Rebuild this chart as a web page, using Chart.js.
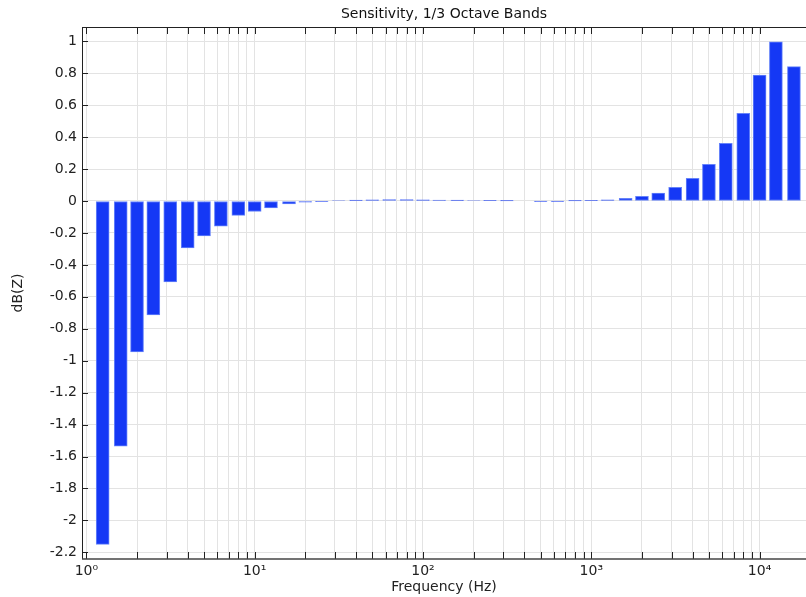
<!DOCTYPE html>
<html>
<head>
<meta charset="utf-8">
<title>Sensitivity, 1/3 Octave Bands</title>
<script src="https://cdn.jsdelivr.net/npm/chart.js@4"></script>
<style>
    body { margin: 0; background: #fff; overflow: hidden; }
    canvas { display: block; }
</style>
</head>
<body>
<canvas id="sensitivity-chart" width="806" height="597"></canvas>
<script>
// 1/3 octave band centre frequencies (Hz)
const bands = [
    1.25, 1.6, 2, 2.5, 3.15, 4, 5, 6.3, 8, 10,
    12.5, 16, 20, 25, 31.5, 40, 50, 63, 80, 100,
    125, 160, 200, 250, 315, 400, 500, 630, 800, 1000,
    1250, 1600, 2000, 2500, 3150, 4000, 5000, 6300, 8000, 10000,
    12500, 16000
];

// Sensitivity per band, dB(Z)
const sensitivity = [
    -2.15, -1.535, -0.945, -0.714, -0.507, -0.294, -0.219, -0.157, -0.09, -0.066,
    -0.043, -0.019, -0.008, -0.002, 0.003, 0.005, 0.007, 0.009, 0.009, 0.008,
    0.006, 0.005, 0.003, 0.002, 0.001, 0.0, -0.001, -0.001, 0.001, 0.004,
    0.008, 0.017, 0.029, 0.05, 0.086, 0.142, 0.23, 0.361, 0.549, 0.789,
    0.996, 0.841
];

// axis ticks
const decades = [1, 10, 100, 1000, 10000];
const decadeLabels = ['10\u2070', '10\u00b9', '10\u00b2', '10\u00b3', '10\u2074'];
const minorSteps = [1, 2, 3, 4, 5, 6, 7, 8, 9];
const yTicks = [1, 0.8, 0.6, 0.4, 0.2, 0, -0.2, -0.4, -0.6, -0.8, -1, -1.2, -1.4, -1.6, -1.8, -2, -2.2];

Chart.defaults.font.family = "'DejaVu Sans', sans-serif";
Chart.defaults.font.size = 14;
Chart.defaults.color = '#222';

// frame + tick marks pointing into the plot
const insideTicks = {
    id: 'insideTicks',
    afterDraw: (chart) => {
        const { ctx, chartArea: { top, bottom, left, right }, scales: { x, y } } = chart;
        ctx.save();
        ctx.strokeStyle = '#222';
        ctx.lineWidth = 1;
        ctx.beginPath();
        x.ticks.forEach(t => {
            const px = Math.round(x.getPixelForValue(t.value)) + 0.5;
            ctx.moveTo(px, top);
            ctx.lineTo(px, top + 7);
            ctx.moveTo(px, bottom);
            ctx.lineTo(px, bottom - 7);
        });
        y.ticks.forEach(t => {
            const py = Math.round(y.getPixelForValue(t.value)) + 0.5;
            ctx.moveTo(left, py);
            ctx.lineTo(left + 6, py);
        });
        ctx.moveTo(left, top + 0.5);
        ctx.lineTo(right, top + 0.5);
        ctx.moveTo(left + 0.5, top);
        ctx.lineTo(left + 0.5, bottom);
        ctx.stroke();

        ctx.strokeStyle = '#444';
        ctx.lineWidth = 1.6;
        ctx.beginPath();
        ctx.moveTo(left, bottom);
        ctx.lineTo(right, bottom);
        ctx.stroke();
        ctx.restore();
    }
};

function initChart() {
    const ctx = document.getElementById('sensitivity-chart').getContext('2d');

    new Chart(ctx, {
        type: 'bar',
        data: {
            labels: bands,
            datasets: [{
                label: 'Sensitivity',
                data: sensitivity,
                backgroundColor: '#1538f5',
                borderColor: '#6683fa',
                borderWidth: 1,
                borderSkipped: false,
                barThickness: 13,
            }]
        },
        options: {
            responsive: false,
            animation: false,
            devicePixelRatio: 1,
            layout: { padding: 0 },
            plugins: {
                legend: { display: false },
                tooltip: { enabled: false },
                title: {
                    display: true,
                    text: 'Sensitivity, 1/3 Octave Bands',
                    fullSize: false,
                    color: '#111',
                    font: { size: 14, weight: 'normal' },
                    padding: { top: 6, bottom: 4.2 },
                },
            },
            scales: {
                x: {
                    type: 'logarithmic',
                    min: 0.942,
                    max: 18870,
                    offset: false,
                    grid: { offset: false, color: '#e3e3e3', drawTicks: false },
                    border: { display: false },
                    afterBuildTicks: (scale) => {
                        const ticks = [];
                        decades.forEach(d => {
                            minorSteps.forEach(m => {
                                const v = m * d;
                                if (v >= scale.min && v <= scale.max) ticks.push({ value: v, major: m === 1 });
                            });
                        });
                        scale.ticks = ticks;
                    },
                    afterFit: (scale) => { scale.height = 38; },
                    ticks: {
                        autoSkip: false,
                        maxRotation: 0,
                        padding: 4,
                        color: '#222',
                        callback: (value) => {
                            const i = decades.indexOf(value);
                            return i >= 0 ? decadeLabels[i] : '';
                        }
                    },
                    title: {
                        display: true,
                        text: 'Frequency (Hz)',
                        color: '#222',
                        padding: { top: 0, bottom: 1.6 },
                    }
                },
                y: {
                    min: -2.2417,
                    max: 1.0895,
                    grid: { color: '#e3e3e3', drawTicks: false },
                    border: { display: false },
                    afterBuildTicks: (scale) => {
                        scale.ticks = yTicks.map(v => ({ value: v }));
                    },
                    afterFit: (scale) => { scale.width = 82; },
                    ticks: {
                        padding: 5,
                        color: '#222',
                        callback: (value) => String(Math.round(value * 10) / 10)
                    },
                    title: {
                        display: true,
                        text: 'dB(Z)',
                        color: '#222',
                        padding: { top: 9.6, bottom: 0 },
                    }
                }
            }
        },
        plugins: [insideTicks]
    });
}

document.addEventListener('DOMContentLoaded', function() {
    initChart();
});
</script>
</body>
</html>
